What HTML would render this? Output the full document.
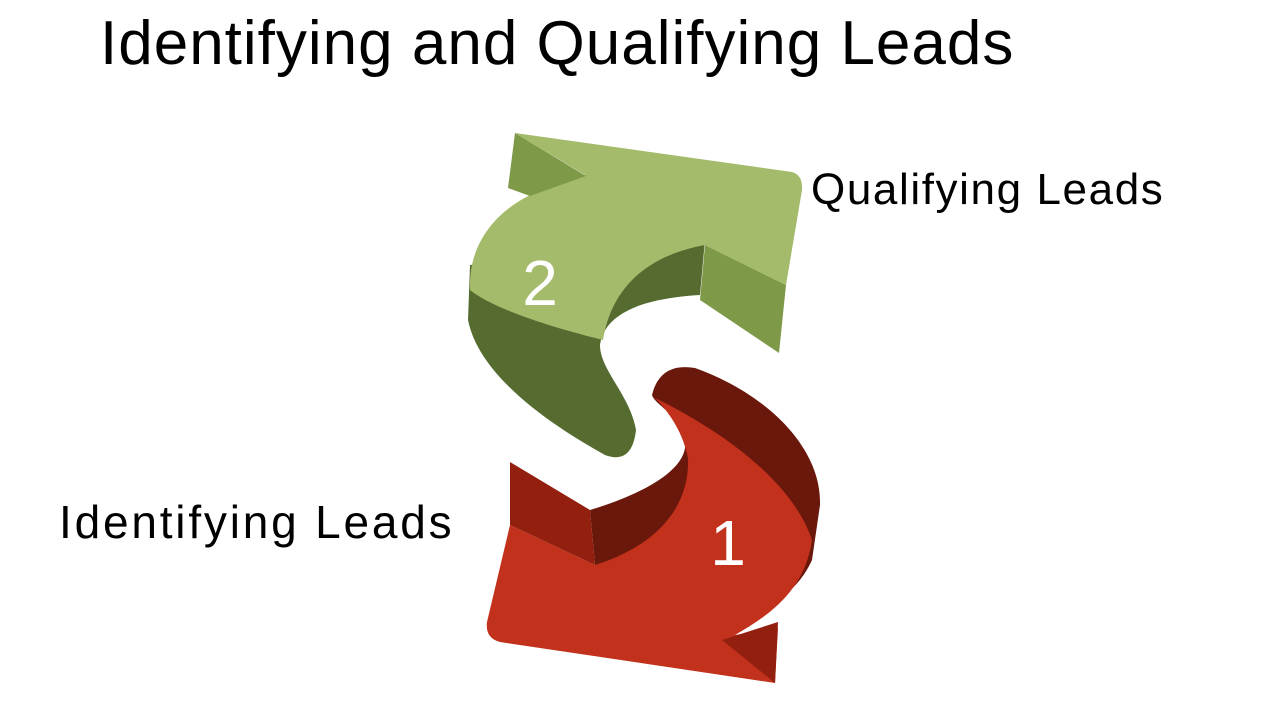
<!DOCTYPE html>
<html><head><meta charset="utf-8"><style>
html,body{margin:0;padding:0;background:#fff;}
body{width:1280px;height:720px;position:relative;overflow:hidden;font-family:"Liberation Sans",sans-serif;}
.t{position:absolute;white-space:nowrap;color:#000;}
</style></head><body>
<div class="t" style="left:100px;top:8px;font-size:62px;letter-spacing:1px;">Identifying and Qualifying Leads</div>
<div class="t" style="left:811px;top:165px;font-size:44px;letter-spacing:1.6px;">Qualifying Leads</div>
<div class="t" style="left:59px;top:495px;font-size:46px;letter-spacing:2.8px;">Identifying Leads</div>
<svg width="1280" height="720" style="position:absolute;left:0;top:0">
<!-- green arrow -->
<path d="M470,265 L468,320 C480,380 560,430 605,455 Q632,465 636,430 C630,395 600,370 600,345 C605,310 650,298 700,295 L705,240 Z" fill="#566b30"/>
<polygon points="705,245 786,285 779,353 700,300" fill="#7e9a48"/>
<path d="M515,133 L792,172 Q803,175 802,190 L786,285 L705,245 C650,255 612,285 603,340 C555,328 495,310 470,290 C468,240 500,210 530,195 L585,175 Z" fill="#a3bb6a"/>
<polygon points="515,133 586,176 530,196 508,188" fill="#7e9a48"/>
<!-- red arrow -->
<path d="M652,395 Q660,362 695,368 C770,395 822,450 820,505 L812,560 C790,610 720,640 620,640 L595,565 L590,510 C640,495 690,470 685,440 C680,415 655,405 652,395 Z" fill="#6a170c"/>
<path d="M510,525 L595,565 C650,548 690,512 688,458 C682,428 665,408 655,398 C720,430 792,480 812,540 C805,590 770,615 735,635 L778,628 L775,683 L500,642 Q485,638 487,622 Z" fill="#c1311b"/>
<polygon points="510,462 590,510 595,565 510,525" fill="#93200f"/>
<polygon points="722,640 778,622 775,683" fill="#93200f"/>
<text x="540" y="305" font-family="Liberation Sans,sans-serif" font-size="64" fill="#fff" text-anchor="middle">2</text>
<text x="728" y="565" font-family="Liberation Sans,sans-serif" font-size="64" fill="#fff" text-anchor="middle">1</text>
</svg>
</body></html>
